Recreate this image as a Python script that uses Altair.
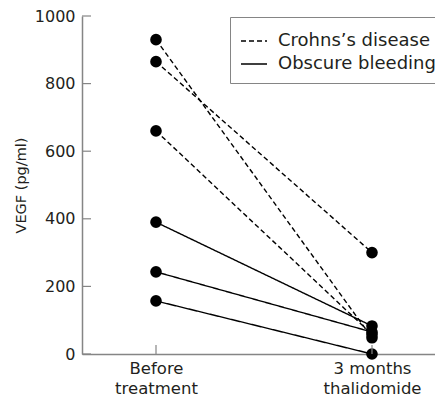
import json
import altair as alt
import pandas as pd

# ---- data ----
time_labels = [["Before", "treatment"], ["3 months", "thalidomide"]]
time_index = [0, 1]
series_names = ["Crohns’s disease", "Obscure bleeding"]
groups = ["Crohns’s disease", "Crohns’s disease", "Crohns’s disease",
          "Obscure bleeding", "Obscure bleeding", "Obscure bleeding"]
before = [930, 865, 660, 390, 243, 157]
after = [48, 300, 58, 83, 65, 0]
y_ticks = [0, 200, 400, 600, 800, 1000]

rows = []
for i, (g, b, a) in enumerate(zip(groups, before, after)):
    rows.append({"id": i, "group": g, "t": time_index[0], "vegf": b})
    rows.append({"id": i, "group": g, "t": time_index[1], "vegf": a})
df = pd.DataFrame(rows)
ytick_df = pd.DataFrame({"vegf": y_ticks})
xtick_df = pd.DataFrame({"t": time_index})

W, H = 353, 338
FONT = "DejaVu Sans"
GRAY = "#858585"
TXT = "#231f20"

label_expr = f"{json.dumps(time_labels)}[datum.value]"

# category positions at 74px and 290px inside a 353px plot area
xscale = alt.Scale(domain=[-0.3426, 1.2917], nice=False, zero=False)
yscale = alt.Scale(domain=[0, 1000], nice=False)

x_enc = alt.X(
    "t:Q", scale=xscale,
    axis=alt.Axis(values=time_index, title=None, labelAngle=0, ticks=False,
                  tickSize=0, labelPadding=6, labelFontSize=16.5,
                  labelLineHeight=20, labelExpr=label_expr, labelColor=TXT,
                  labelFont=FONT, labelFlush=False, labelBound=False,
                  labelOverlap=False, domainColor=GRAY, domainWidth=1.5,
                  grid=False),
)
y_enc = alt.Y(
    "vegf:Q", scale=yscale,
    axis=alt.Axis(values=y_ticks, format="d", title="VEGF (pg/ml)", ticks=False,
                  tickSize=0, labelPadding=7, labelFontSize=16, labelColor=TXT,
                  labelFont=FONT, titleFontSize=14.5, titleFontWeight="normal",
                  titleColor=TXT, titleFont=FONT, titlePadding=6,
                  domainColor=GRAY, domainWidth=1.5, grid=False),
)

base = alt.Chart(df)

lines = base.mark_line(color="black", strokeWidth=1.4).encode(
    x=x_enc,
    y=y_enc,
    detail="id:N",
    order="t:Q",
    strokeDash=alt.StrokeDash(
        "group:N",
        scale=alt.Scale(domain=series_names, range=[[5, 3], [1, 0]]),
        legend=alt.Legend(
            title=None, orient="none", legendX=148, legendY=1,
            symbolType="stroke", symbolSize=676, symbolStrokeWidth=1.5,
            symbolStrokeColor="black", labelFontSize=18, labelFont=FONT,
            labelColor=TXT, labelOffset=10, rowPadding=0, padding=10,
            strokeColor=GRAY,
        ),
    ),
)

points = base.mark_circle(color="black", opacity=1, size=135).encode(
    x=alt.X("t:Q", scale=xscale),
    y=alt.Y("vegf:Q", scale=yscale),
)

yticks = alt.Chart(ytick_df).mark_rule(color=GRAY, strokeWidth=1.2).encode(
    y=alt.Y("vegf:Q", scale=yscale),
    x=alt.value(0),
    x2=alt.value(9),
)

xticks = alt.Chart(xtick_df).mark_rule(color=GRAY, strokeWidth=1.2).encode(
    x=alt.X("t:Q", scale=xscale),
    y=alt.value(H),
    y2=alt.value(H - 9),
)

chart = alt.layer(lines, points, yticks, xticks).properties(
    width=W, height=H,
    autosize="none",
    padding={"left": 74, "top": 8, "right": 0, "bottom": 44},
).configure_view(stroke=None)

chart.save("out.html", embed_options={"renderer": "svg", "actions": False})
